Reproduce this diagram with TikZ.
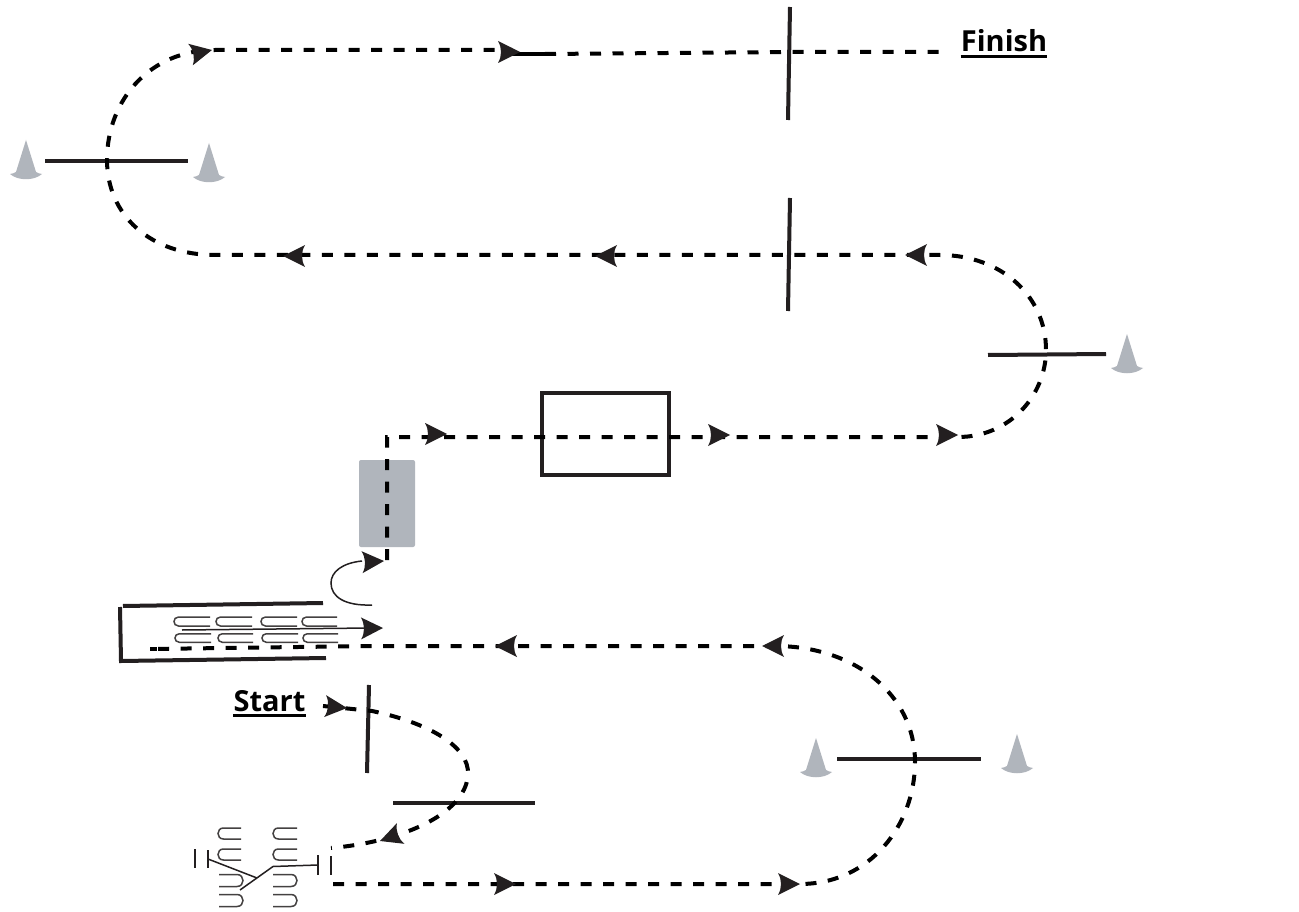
\documentclass[tikz,border=0pt]{standalone}
\usepackage{fontspec}
\setmainfont{Open Sans}
\definecolor{ink}{HTML}{231F20}
\definecolor{conegray}{HTML}{B0B5BC}
\tikzset{
  bar/.style={draw=ink,line width=4pt},
  route/.style={draw=black,line width=4pt,dash pattern=on 11pt off 11.5pt},
  thinline/.style={draw=ink,line width=1.5pt},
  hair/.style={draw=ink!85,line width=1.5pt},
  label/.style={font=\bfseries\fontsize{29}{30}\selectfont,text=black,inner sep=0pt,anchor=base},
  ulbar/.style={draw=black,line width=2.2pt},
  pics/ahead/.style={code={
    \fill[ink] (0,0) -- (-22,-11) .. controls (-18,-4) and (-18,4) .. (-22,11) -- cycle;
  }},
  pics/cone/.style={code={
    \fill[conegray] (0,-40) -- (-10,-8) .. controls (-12,-6) and (-14,-7) .. (-16,-6)
       .. controls (-8,1) and (8,1) .. (16,-6) .. controls (14,-7) and (12,-6) .. (10,-8) -- cycle;
  }}
}
\newcommand{\hairL}[4]{\draw[hair] (#2,#3-#4/2) -- (#1+#4/2,#3-#4/2) .. controls (#1-#4/6,#3-#4/2) and (#1-#4/6,#3+#4/2) .. (#1+#4/2,#3+#4/2) -- (#2,#3+#4/2);}
\newcommand{\hairR}[4]{\draw[hair] (#1,#3-#4/2) -- (#2-#4/2,#3-#4/2) .. controls (#2+#4/6,#3-#4/2) and (#2+#4/6,#3+#4/2) .. (#2-#4/2,#3+#4/2) -- (#1,#3+#4/2);}
\begin{document}
\begin{tikzpicture}[x=1pt,y=-1pt]
\path[use as bounding box,fill=white] (0,0) rectangle (1299,912);
% grey box
\fill[conegray,rounded corners=2pt] (359,460) rectangle (415,547);
\node[draw=ink,line width=3.6pt,minimum width=127pt,minimum height=82pt,inner sep=0pt] (box) at (605.5,434) {};
% bars
\foreach \a/\b/\c/\d in {790/7/788/120,790/198/788/311,988/355/1106/354,45/161/188/161,837/759/981/759,393/803/535/803,369/685/367/773}
  \draw[bar] (\a,\b) -- (\c,\d);
% cones
\foreach \x/\y in {26/180,209/183,1127/374,816/778,1017/774}
  \pic at (\x,\y) {cone};
% chute
\draw[bar] (123,606) -- (323,603);
\draw[bar] (120,607) -- (121,661) -- (326,658);
% hairpins
\foreach \a/\b in {174/210,216/252,261/297,302/337} \hairL{\a}{\b}{621.5}{9};
\foreach \a/\b in {175/211,218/253,262/298,303/338} \hairL{\a}{\b}{638}{8.5};
\draw[thinline] (182,630) -- (370,628);
\pic[rotate=1] at (383,628) {ahead};
% curved entry arrow
\draw[thinline] (372,605) .. controls (345,606) and (331,597) .. (331,583) .. controls (331,572) and (342,563) .. (362,561);
\pic[rotate=3] at (384,561) {ahead};
% gate
\foreach \y in {833.5,854.5} {\hairL{218}{241}{\y}{11}; \hairL{273}{297}{\y}{11};}
\foreach \y in {880.5,900.5} {\hairR{219}{243}{\y}{12}; \hairR{273}{297}{\y}{12};}
\draw[thinline] (195,849) -- (195,868);
\draw[thinline] (208,850) -- (208,868);
\draw[thinline] (208,859) -- (257,878);
\draw[thinline] (240,890) -- (273,866.5) -- (318,865);
\draw[thinline] (318,855) -- (318,875);
\draw[thinline] (331,856) -- (331,875);
% routes
\coordinate (s0) at (323,706);
\coordinate (s1) at (372,711);
\coordinate (s2) at (468,775);
\coordinate (s3) at (331,848);
\draw[route] (s0) -- (s1) .. controls (425,722) and (470,745) .. (s2) .. controls (465,815) and (400,842) .. (s3);
\coordinate (b0) at (333,884);
\coordinate (b1) at (800,884);
\coordinate (b2) at (915,762);
\coordinate (b3) at (775,646);
\coordinate (b4) at (150,649);
\draw[route] (b0) -- (b1) .. controls (870,884) and (915,825) .. (b2) .. controls (915,695) and (855,646) .. (b3) -- (372,646) -- (b4);
\draw[draw=black,line width=4pt] (b4) -- (157,649);
\coordinate (m0) at (387,560);
\coordinate (m1) at (387,437);
\coordinate (m2) at (958,437);
\coordinate (m3) at (1046,350);
\coordinate (m4) at (940,255);
\coordinate (m5) at (215,255);
\coordinate (m6) at (107,160);
\coordinate (m7) at (215,50);
\coordinate (m8) at (512,50);
\draw[route] (m0) -- (m1) -- (m2) .. controls (1010,437) and (1046,395) .. (m3) .. controls (1046,295) and (1000,255) .. (m4) -- (m5) .. controls (150,255) and (107,215) .. (m6) .. controls (107,100) and (150,50) .. (m7) -- (m8);
\coordinate (t0) at (512,54);
\coordinate (t1) at (790,52);
\coordinate (t2) at (940,52);
\draw[draw=black,line width=4pt] (t0) -- (545,54);
\draw[route] (545,54) -- (t1) -- (t2);
% arrowheads
\foreach \x/\y/\r in {447/434/0,730/435/0,958/435/0,520/52/0,212/50/12,
  905/255/180,595/256/180,283/256/180,
  347/708/-5,516/884/0,800/884/0,762/646/180,495/646/180,380/841/200}
  \pic[rotate=\r] at (\x,\y) {ahead};
% labels
\node[label] (finish) at (1004,52) {Finish};
\node[label] (start) at (269.5,711) {Start};
\draw[ulbar] ([yshift=-4.5pt]finish.base west) -- ([yshift=-4.5pt]finish.base east);
\draw[ulbar] ([yshift=-4.5pt]start.base west) -- ([yshift=-4.5pt]start.base east);
\end{tikzpicture}
\end{document}
